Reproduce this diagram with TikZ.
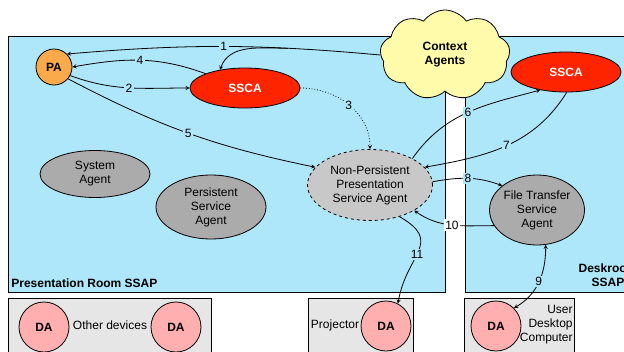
\documentclass[tikz,border=0pt]{standalone}
\usepackage{fontspec}
\setmainfont{Liberation Sans}
\usetikzlibrary{shapes.geometric,shapes.symbols}

\definecolor{roomblue}{HTML}{AEE6FA}
\definecolor{devgray}{HTML}{E6E6E6}
\definecolor{agentgray}{HTML}{ABABAB}
\definecolor{nppgray}{HTML}{C8C8C8}
\definecolor{paorange}{HTML}{FBAA4B}
\definecolor{sscared}{HTML}{FF2400}
\definecolor{cloudyellow}{HTML}{FFFBAA}
\definecolor{dapink}{HTML}{FFAFAF}

\begin{document}
\fontsize{12}{14}\selectfont
\begin{tikzpicture}[x=1pt,y=1pt,>=stealth,line width=0.8pt,
	agent/.style={draw,ellipse,fill=agentgray,align=center,inner sep=0pt},
	ssca/.style={draw,ellipse,fill=sscared,text=white,font=\bfseries,minimum width=110pt,minimum height=40pt},
	da/.style={draw,circle,fill=dapink,minimum size=50pt,inner sep=0pt,font=\bfseries},
	num/.style={fill=roomblue,inner sep=1.5pt},
	]

	\useasboundingbox (0,0) rectangle (624,-351);

	% the two SSAP rooms and the device boxes
	\draw[fill=roomblue] (8,-36) rectangle (445,-292);
	\draw[fill=roomblue] (465,-36) rectangle (660,-292);
	\draw[fill=devgray] (8,-298) rectangle (211,-370);
	\draw[fill=devgray] (308,-298) rectangle (413,-370);
	\draw[fill=devgray] (464,-298) rectangle (574,-370);

	\node[font=\bfseries,anchor=west,inner sep=0pt] (RoomA) at (11,-283) {Presentation Room SSAP};
	\node[font=\bfseries,align=center,inner sep=0pt] (RoomB) at (608,-275) {Deskroom\\SSAP};

	\node[draw,cloud,cloud puffs=9,cloud puff arc=110,fill=cloudyellow,font=\bfseries,align=center,minimum width=130pt,minimum height=90pt,inner sep=0pt] (Context) at (445,-55) {Context\\Agents};

	\node[draw,circle,fill=paorange,minimum size=36pt,inner sep=0pt,font=\bfseries] (PA) at (54,-67) {PA};
	\node[ssca] (SSCA) at (245,-88) {SSCA};
	\node[ssca] (SSCAdesk) at (566,-72) {SSCA};

	\node[agent,minimum width=110pt,minimum height=47pt] (System) at (95,-174) {System\\Agent};
	\node[agent,minimum width=110pt,minimum height=64pt] (Persist) at (211,-207) {Persistent\\Service\\Agent};
	\node[agent,fill=nppgray,dashed,minimum width=125pt,minimum height=71pt] (NPPSA) at (370,-185) {Non-Persistent\\Presentation\\Service Agent};
	\node[agent,minimum width=95pt,minimum height=70pt] (FTSA) at (537,-210) {File Transfer\\Service\\Agent};

	% device agents
	\node[da] (DAleft) at (44,-327) {DA};
	\node[da] (DAother) at (176,-327) {DA};
	\node[da] (DAproj) at (386,-326) {DA};
	\node[da] (DAuser) at (496,-326) {DA};
	\node[inner sep=0pt] (Other) at (110,-325) {Other devices};
	\node[inner sep=0pt] (Proj) at (335,-325) {Projector};
	\node[align=right,anchor=east,inner sep=0pt] (User) at (573,-325) {User\\Desktop\\Computer};

	% messages
	\draw[->] (Context.west) to[bend right=5] coordinate[pos=0.28] (Split) node[num]{1} (PA.45);
	\draw[->] (Split) to[out=180,in=70] (SSCA.144);
	\draw[->] (PA.-28) to[out=-20,in=180] node[num]{2} (SSCA.west);
	\draw[->,dotted] (SSCA.east) to[out=0,in=90] node[num]{3} (NPPSA.north);
	\draw[->] (SSCA.160) to[out=160,in=10] node[num]{4} (PA.east);
	\draw[->] (PA.-40) to[bend right=8] node[num]{5} (NPPSA.162);
	\draw[->] (NPPSA.32) to[out=55,in=195] node[num]{6} (SSCAdesk.215);
	\draw[->] (SSCAdesk.-88) to[out=-122,in=10] node[num]{7} (NPPSA.18);
	\draw[->] (NPPSA.3) to[out=10,in=160] node[num]{8} (FTSA.145);
	\draw[<->] (DAuser.45) to[out=30,in=-90] node[num]{9} (FTSA.-76);
	\draw[->] (FTSA.200) to[out=180,in=-35] node[num,fill=white]{10} (NPPSA.-30);
	\draw[->] (NPPSA.-47) to[out=-30,in=80,looseness=1.5] node[num,pos=0.55]{11} (DAproj.62);
	%\draw[->] (Persist) -- (NPPSA);

\end{tikzpicture}
\end{document}
